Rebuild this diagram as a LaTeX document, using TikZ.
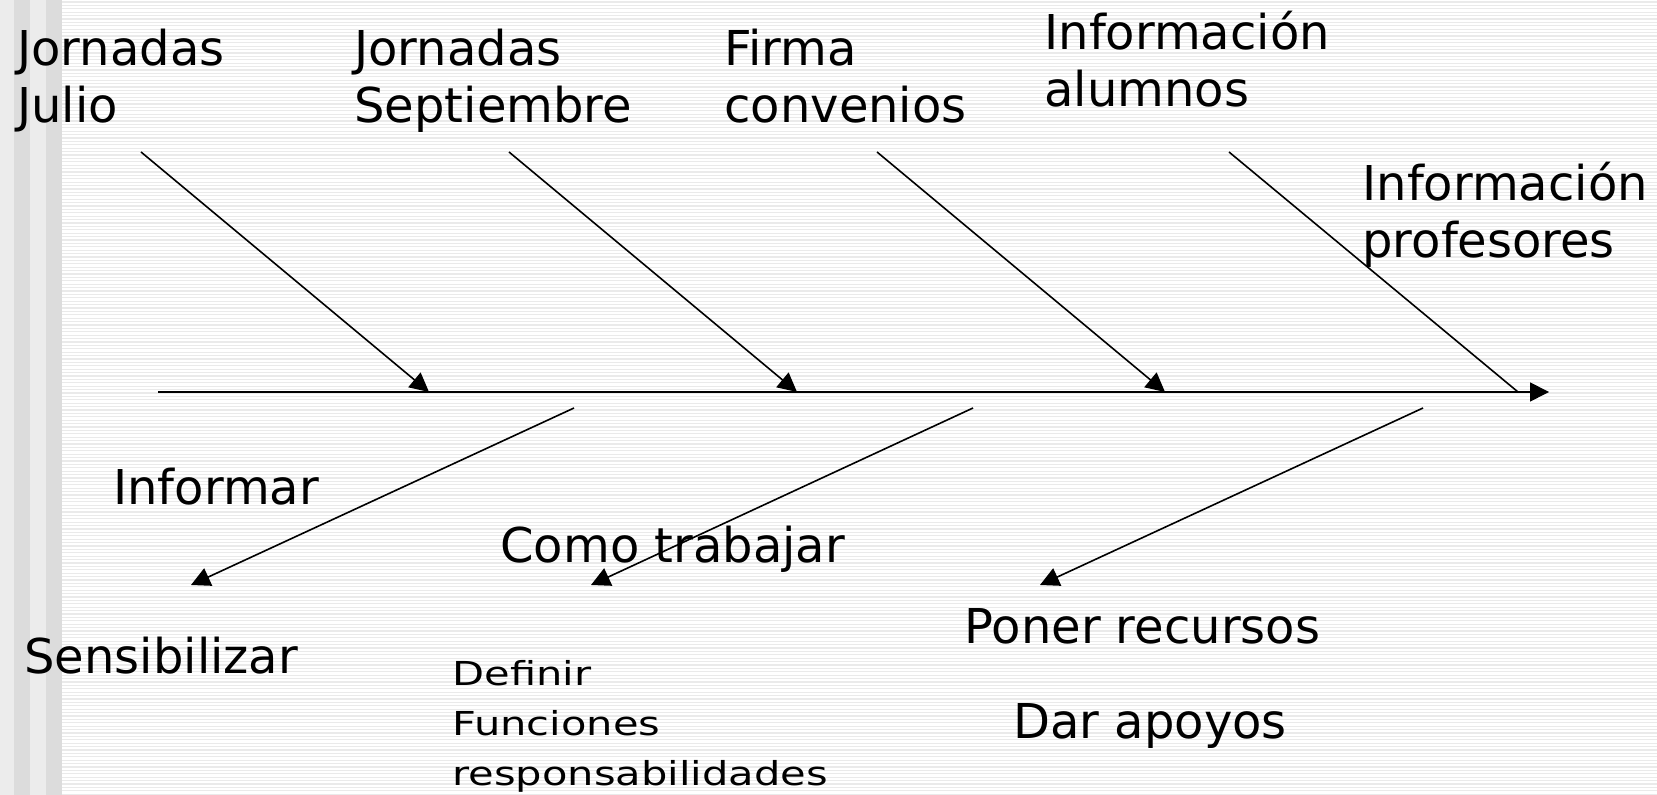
\documentclass[tikz,border=0pt]{standalone}
\usepackage{fontspec}
\setmainfont{DejaVu Sans}
\usetikzlibrary{arrows.meta}

\definecolor{barlight}{HTML}{ECECEC}
\definecolor{bardark}{HTML}{DCDCDC}
\definecolor{stripe}{HTML}{EAEAEA}

\tikzset{
  bone/.style={line width=0.8pt,-{Triangle[length=9.5pt,width=9.5pt]}},
  cause/.style={anchor=base west,inner sep=0pt,align=left,font=\fontsize{24}{28.5}\selectfont},
  small/.style={cause,font=\fontsize{16.5}{25}\selectfont,xscale=1.26,transform shape}
}

\begin{document}
\begin{tikzpicture}[x=0.5pt,y=-0.5pt]
        % Background
        \useasboundingbox (0,0) rectangle (1657,795);
        \fill[white] (0,0) rectangle (1657,795);
        \foreach \y in {2,5.4,...,795} \draw[stripe,line width=0.55pt] (62,\y) -- (1657,\y);
        \fill[barlight] (0,0) rectangle (14,795);
        \fill[bardark] (14,0) rectangle (30,795);
        \fill[barlight] (30,0) rectangle (46,795);
        \fill[bardark] (46,0) rectangle (62,795);

        % Labels (base = last line)
        \node[cause] (jjulio) at (17,123) {Jornadas\\Julio};
        \node[cause] (jsept) at (354,123) {Jornadas\\Septiembre};
        \node[cause] (firma) at (724,123) {Firma\\convenios};
        \node[cause] (infalum) at (1044,107) {Información\\alumnos};
        \node[cause] (infprof) at (1362,258) {Información\\profesores};
        \node[cause] (informar) at (113,505) {Informar};
        \node[cause] (sensib) at (24,673) {Sensibilizar};
        \node[cause] (como) at (500,562) {Como trabajar};
        \node[small] (definir) at (452,785) {Definir\\Funciones\\responsabilidades};
        \node[cause] (poner) at (964,643) {Poner recursos};
        \node[cause] (apoyos) at (1013,738) {Dar apoyos};

        % Spine
        \coordinate (tail) at (158,392);
        \coordinate (head) at (1549,392);
        \draw[bone] (tail) -- (head);

        % Upper bones
        \foreach \sx/\ex [count=\i] in {141/429,509/797,877/1165}
          {\coordinate (up\i) at (\sx,152);
           \coordinate (hit\i) at (\ex,392);
           \draw[bone] (up\i) -- (hit\i);}
        \coordinate (up4) at (1229,152);
        \coordinate (hit4) at (1518,392);
        \draw[line width=0.8pt] (up4) -- (hit4);

        % Lower bones
        \foreach \sx/\ex [count=\i] in {574/191,973/591,1423/1040}
          {\coordinate (low\i) at (\sx,408);
           \coordinate (end\i) at (\ex,585);
           \draw[bone] (low\i) -- (end\i);}
      \end{tikzpicture}
\end{document}
